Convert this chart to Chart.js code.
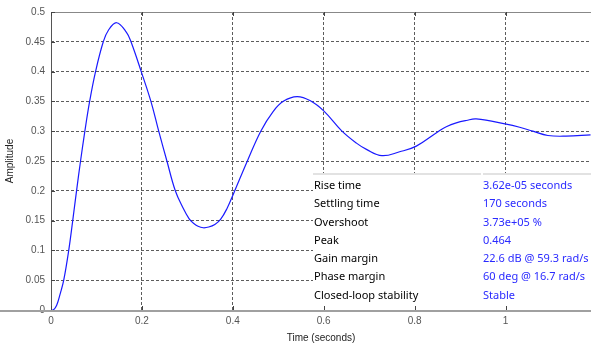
<!DOCTYPE html>
<html><head><meta charset="utf-8">
<script src="https://cdn.jsdelivr.net/npm/chart.js@4/dist/chart.umd.min.js"></script>
<style>html,body{margin:0;padding:0;background:#fff}#wrap{width:591px;height:352px;position:relative}</style>
</head><body><div id="wrap"><canvas id="c" width="591" height="352"></canvas></div>
<script>
const timeSeconds = [0, 0.005, 0.0125, 0.0205, 0.028, 0.039, 0.0478, 0.0562, 0.065, 0.0745, 0.085, 0.098, 0.115, 0.126, 0.1443, 0.166, 0.176, 0.1985, 0.2198, 0.237, 0.255, 0.2735, 0.29, 0.304, 0.3128, 0.3235, 0.3348, 0.347, 0.3604, 0.373, 0.387, 0.402, 0.432, 0.4615, 0.4886, 0.512, 0.5414, 0.5707, 0.6, 0.639, 0.672, 0.694, 0.728, 0.767, 0.8037, 0.853, 0.8696, 0.8916, 0.9136, 0.9355, 1.0015, 1.031, 1.06, 1.093, 1.133, 1.187];
const amplitude   = [0, 0, 0.008, 0.028, 0.05, 0.1, 0.15, 0.2, 0.25, 0.3, 0.35, 0.4, 0.45, 0.469, 0.482, 0.466, 0.45, 0.4, 0.35, 0.3, 0.25, 0.2, 0.172, 0.153, 0.146, 0.1405, 0.138, 0.1392, 0.1435, 0.152, 0.17, 0.196, 0.25, 0.3, 0.333, 0.3505, 0.358, 0.351, 0.334, 0.301, 0.28, 0.2695, 0.259, 0.2655, 0.275, 0.3, 0.3075, 0.314, 0.318, 0.3206, 0.312, 0.3067, 0.3, 0.2928, 0.2917, 0.294];
const xTickValues = [0, 0.2, 0.4, 0.6, 0.8, 1];
const yTickValues = [0, 0.05, 0.1, 0.15, 0.2, 0.25, 0.3, 0.35, 0.4, 0.45, 0.5];
const tableLabels = ['Rise time', 'Settling time', 'Overshoot', 'Peak', 'Gain margin', 'Phase margin', 'Closed-loop stability'];
const tableValues = ['3.62e-05 seconds', '170 seconds', '3.73e+05 %', '0.464', '22.6 dB @ 59.3 rad/s', '60 deg @ 16.7 rad/s', 'Stable'];

const points = timeSeconds.map((t, i) => ({x: t, y: amplitude[i]}));

const tablePlugin = {
  id: 'tablePlugin',
  afterDatasetsDraw(chart) {
    const ctx = chart.ctx;
    const area = chart.chartArea;
    const x0 = 313, y0 = 173;
    ctx.save();
    ctx.fillStyle = '#ffffff';
    ctx.fillRect(x0, y0, area.right - x0, area.bottom - y0);
    ctx.fillStyle = '#e2e2e2';
    ctx.fillRect(x0, y0, 168, 2);
    ctx.fillRect(x0 + 170, y0, area.right - x0 - 170, 2);
    ctx.font = '11px "Noto Sans"';
    ctx.textBaseline = 'middle';
    tableLabels.forEach((lab, i) => {
      const y = 185.7 + i * 18.33;
      ctx.fillStyle = '#000000';
      ctx.fillText(lab, 314, y);
      ctx.fillStyle = '#2a2aff';
      ctx.fillText(tableValues[i], 483, y);
    });
    ctx.restore();
  },
  afterDraw(chart) {
    const ctx = chart.ctx;
    const a = chart.chartArea;
    const xs = chart.scales.x, ys = chart.scales.y;
    ctx.save();
    ctx.strokeStyle = '#888888';
    ctx.lineWidth = 1;
    ctx.beginPath(); ctx.moveTo(a.left, a.top + 0.5); ctx.lineTo(a.right, a.top + 0.5); ctx.stroke();
    ctx.strokeStyle = '#555555';
    ctx.beginPath(); ctx.moveTo(a.left + 0.5, a.top); ctx.lineTo(a.left + 0.5, a.bottom); ctx.stroke();
    ctx.strokeStyle = '#444444';
    xTickValues.forEach(v => {
      const px = Math.round(xs.getPixelForValue(v)) + 0.5;
      ctx.beginPath(); ctx.moveTo(px, a.bottom); ctx.lineTo(px, a.bottom - 4); ctx.stroke();
      ctx.beginPath(); ctx.moveTo(px, a.top); ctx.lineTo(px, a.top + 4); ctx.stroke();
    });
    yTickValues.forEach(v => {
      const py = Math.round(ys.getPixelForValue(v)) + 0.5;
      ctx.beginPath(); ctx.moveTo(a.left, py); ctx.lineTo(a.left + 4, py); ctx.stroke();
    });
    ctx.strokeStyle = '#a0a0a0';
    ctx.lineWidth = 2;
    ctx.beginPath(); ctx.moveTo(0, a.bottom + 1); ctx.lineTo(a.right, a.bottom + 1); ctx.stroke();
    ctx.restore();
  }
};

new Chart(document.getElementById('c'), {
  type: 'scatter',
  data: {
    datasets: [{
      data: points,
      showLine: true,
      borderColor: '#1a1aff',
      borderWidth: 1.2,
      pointRadius: 0,
      tension: 0.4,
      fill: false
    }]
  },
  options: {
    responsive: false,
    animation: false,
    layout: {padding: {top: 10, right: 0, left: 0, bottom: 0}},
    plugins: {legend: {display: false}, tooltip: {enabled: false}},
    scales: {
      x: {
        type: 'linear', min: 0, max: 1.188,
        afterBuildTicks: s => { s.ticks = xTickValues.map(v => ({value: v})); },
        afterFit: s => { s.height = 42; },
        ticks: {font: {family: '"Liberation Sans"', size: 10}, color: '#555555', padding: 5, maxRotation: 0, autoSkip: false, callback: v => String(v)},
        grid: {color: '#5c5c5c', lineWidth: 1, drawTicks: false},
        border: {display: false, dash: [3, 2]},
        title: {display: true, text: 'Time (seconds)', font: {family: '"Liberation Sans"', size: 10}, color: '#222222', padding: {top: 0, bottom: 8}}
      },
      y: {
        min: 0, max: 0.5,
        afterBuildTicks: s => { s.ticks = yTickValues.map(v => ({value: v})); },
        afterFit: s => { s.width = 51; },
        ticks: {font: {family: '"Liberation Sans"', size: 10}, color: '#555555', padding: 6, autoSkip: false, callback: v => String(v)},
        grid: {color: '#5c5c5c', lineWidth: 1, drawTicks: false},
        border: {display: false, dash: [3, 2]},
        title: {display: true, text: 'Amplitude', font: {family: '"Liberation Sans"', size: 10}, color: '#222222', padding: {top: 4, bottom: 0}}
      }
    }
  },
  plugins: [tablePlugin]
});
</script>
</body></html>
